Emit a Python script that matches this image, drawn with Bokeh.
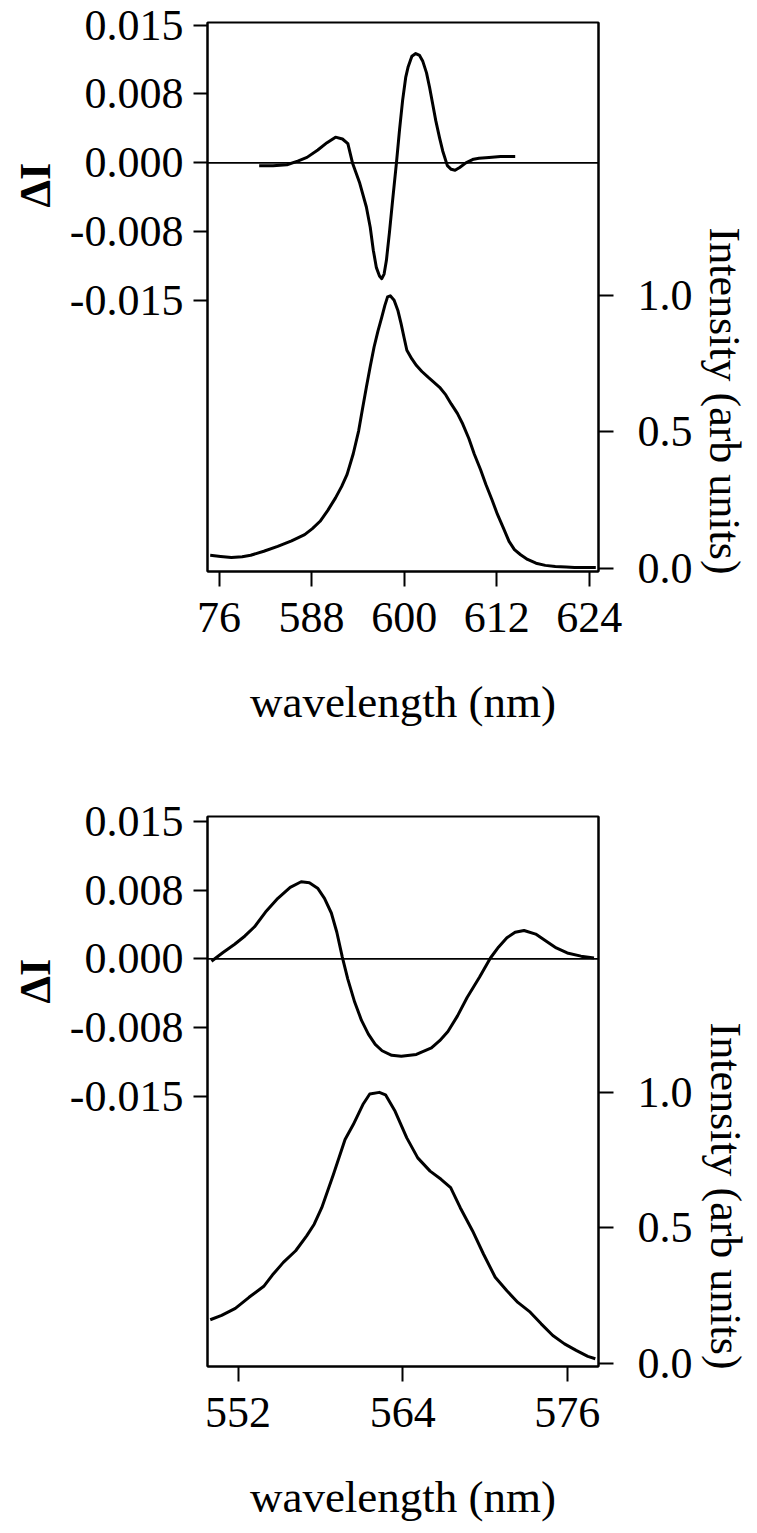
from bokeh.plotting import figure
from bokeh.models import Range1d, LinearAxis, FixedTicker, Span, Title
from bokeh.layouts import column
from bokeh.embed import file_html
from bokeh.resources import INLINE

# ---------------- data ----------------
# top panel: difference spectrum (Delta I) and emission spectrum
top_dI_nm = [581.2, 583.0, 584.8, 586.2, 587.4, 588.8, 590.0, 591.1, 592.0, 592.7, 593.3,
             594.2, 595.1, 595.6, 596.0, 596.4, 596.8, 597.1, 597.4, 597.7, 598.1, 598.5,
             599.0, 599.4, 599.8, 600.2, 600.5, 601.0, 601.5, 602.0, 602.4, 602.9, 603.3,
             603.7, 604.1, 604.6, 605.0, 605.6, 606.1, 606.6, 607.2, 608.0, 609.0, 609.7,
             611.0, 612.5, 614.4]
top_dI = [-0.0003, -0.0003, -0.0002, 0.0002, 0.0006, 0.0014, 0.0022, 0.0028, 0.0026, 0.0021, 0.0000,
          -0.0021, -0.0048, -0.0070, -0.0095, -0.0114, -0.0123, -0.0126, -0.0121, -0.0106, -0.0075, -0.0041,
          0.0000, 0.0036, 0.0068, 0.0093, 0.0104, 0.0116, 0.0119, 0.0117, 0.0111, 0.0098, 0.0082,
          0.0064, 0.0046, 0.0027, 0.0013, -0.0003, -0.0007, -0.0008, -0.0005, 0.0000, 0.0004, 0.0005,
          0.0006, 0.0007, 0.0007]

top_int_nm = [574.85, 576.2, 577.6, 579.0, 580.1, 581.8, 583.6, 585.4, 587.1, 588.1, 589.1, 590.1,
              591.1, 591.9, 592.6, 593.4, 594.1, 594.6, 595.1, 595.6, 596.1, 596.6, 597.1, 597.5,
              597.85, 598.2, 598.7, 599.2, 599.6, 600.0, 600.35, 601.0, 601.6, 602.3, 603.1, 603.8,
              604.6, 605.4, 606.1, 606.9, 607.6, 608.4, 609.1, 609.9, 610.6, 611.4, 612.1, 612.9,
              613.6, 614.3, 615.1, 616.0, 617.1, 618.3, 619.6, 621.0, 622.1, 623.5, 624.85]
top_int = [0.047, 0.043, 0.039, 0.042, 0.047, 0.062, 0.080, 0.100, 0.123, 0.145, 0.172, 0.212,
           0.258, 0.300, 0.344, 0.420, 0.504, 0.585, 0.664, 0.740, 0.812, 0.870, 0.922, 0.965,
           0.996, 1.000, 0.984, 0.945, 0.898, 0.845, 0.800, 0.768, 0.744, 0.722, 0.701, 0.684,
           0.664, 0.636, 0.603, 0.568, 0.529, 0.475, 0.418, 0.362, 0.307, 0.250, 0.197, 0.145,
           0.098, 0.068, 0.049, 0.032, 0.018, 0.010, 0.006, 0.004, 0.002, 0.002, 0.002]

# bottom panel
bot_dI_nm = [550.06, 550.9, 551.75, 552.5, 553.2, 554.0, 554.9, 555.8, 556.6, 557.2, 557.8,
             558.3, 558.8, 559.2, 559.6, 560.0, 560.5, 561.0, 561.5, 562.0, 562.5, 563.2,
             563.9, 565.0, 566.1, 566.7, 567.3, 568.0, 568.7, 569.6, 570.4, 571.0, 571.6,
             572.2, 572.85, 573.7, 574.5, 575.2, 576.0, 577.0, 577.95]
bot_dI = [-0.00025, 0.0007, 0.0016, 0.0025, 0.0035, 0.0051, 0.0066, 0.0078, 0.0084, 0.0083, 0.0077,
          0.0066, 0.0050, 0.0029, 0.0002, -0.0022, -0.0047, -0.0067, -0.0082, -0.0093, -0.0100, -0.0105,
          -0.0106, -0.0104, -0.0097, -0.0089, -0.0079, -0.0062, -0.0042, -0.0020, 0.0001, 0.0013, 0.0023,
          0.0029, 0.0031, 0.0027, 0.0019, 0.0012, 0.00065, 0.0003, 0.0001]

bot_int_nm = [549.97, 550.8, 551.8, 552.8, 553.9, 554.5, 555.3, 556.2, 557.0, 557.55, 558.1,
              558.95, 559.8, 560.4, 561.1, 561.6, 562.3, 562.75, 563.45, 564.3, 565.1, 566.0,
              566.8, 567.5, 568.2, 569.1, 569.9, 570.75, 571.6, 572.4, 573.3, 574.1, 574.95,
              575.8, 576.65, 577.5, 578.05]
bot_int = [0.160, 0.176, 0.202, 0.243, 0.285, 0.325, 0.372, 0.415, 0.470, 0.513, 0.574,
           0.697, 0.826, 0.881, 0.955, 0.994, 1.000, 0.991, 0.930, 0.832, 0.758, 0.709,
           0.679, 0.648, 0.574, 0.488, 0.402, 0.317, 0.267, 0.224, 0.188, 0.145, 0.102,
           0.071, 0.047, 0.025, 0.016]

# ticks
top_x_ticks = [576, 588, 600, 612, 624]
top_x_labels = ["76", "588", "600", "612", "624"]
bot_x_ticks = [552, 564, 576]
bot_x_labels = ["552", "564", "576"]
dI_ticks = [-0.015, -0.0075, 0.0, 0.0075, 0.015]
dI_labels = ["-0.015", "-0.008", "0.000", "0.008", "0.015"]
int_ticks = [0.0, 0.5, 1.0]
int_labels = ["0.0", "0.5", "1.0"]

FONT = "Liberation Serif"
W = 757


def make_panel(height, mb_left, mb_top, mb_bottom, frame_w,
               xr, yr, ir, x_ticks, x_labels, dI_nm, dI, int_nm, inten,
               dI_offset, int_offset, dI_standoff, int_standoff):
    p = figure(width=W, height=height, output_backend="svg", toolbar_location=None,
               x_range=Range1d(*xr), y_range=Range1d(*yr),
               min_border_left=mb_left, min_border_top=mb_top,
               min_border_bottom=mb_bottom,
               min_border_right=W - mb_left - frame_w)
    p.extra_y_ranges = {"int": Range1d(*ir)}
    p.grid.visible = False
    p.background_fill_color = "white"
    p.border_fill_color = "white"
    p.outline_line_color = "black"
    p.outline_line_width = 2

    def style(ax, standoff):
        ax.major_label_text_font = FONT
        ax.major_label_text_font_size = "44px"
        ax.major_label_text_color = "black"
        ax.axis_line_color = "black"
        ax.axis_line_width = 2
        ax.major_tick_line_color = "black"
        ax.major_tick_line_width = 2
        ax.major_tick_out = 15
        ax.major_tick_in = 0
        ax.minor_tick_line_color = None
        ax.major_label_standoff = standoff

    # bottom axis
    xa = p.xaxis[0]
    xa.ticker = FixedTicker(ticks=x_ticks)
    xa.major_label_overrides = {t: l for t, l in zip(x_ticks, x_labels)}
    style(xa, 16)
    xa.axis_label = "wavelength (nm)"
    xa.axis_label_text_font = FONT
    xa.axis_label_text_font_size = "45px"
    xa.axis_label_text_font_style = "normal"
    xa.axis_label_text_color = "black"
    xa.axis_label_standoff = 42

    # left axis (Delta I)
    ya = p.yaxis[0]
    ya.ticker = FixedTicker(ticks=dI_ticks)
    ya.major_label_overrides = {t: l for t, l in zip(dI_ticks, dI_labels)}
    style(ya, 10)
    ya.major_tick_out = 14

    # right axis (intensity)
    ra = LinearAxis(y_range_name="int")
    ra.ticker = FixedTicker(ticks=int_ticks)
    ra.major_label_overrides = {t: l for t, l in zip(int_ticks, int_labels)}
    style(ra, 24)
    p.add_layout(ra, "right")

    p.add_layout(Span(location=0, dimension="width", line_color="black", line_width=1.8))

    p.line(dI_nm, dI, line_color="black", line_width=3, line_join="round")
    p.line(int_nm, inten, line_color="black", line_width=3, line_join="round",
           y_range_name="int")

    p.add_layout(Title(text="ΔI", align="left", offset=dI_offset, vertical_align="bottom",
                       standoff=dI_standoff, text_font=FONT, text_font_size="44px",
                       text_font_style="bold", text_color="black"), "left")
    p.add_layout(Title(text="Intensity (arb units)", align="left", offset=int_offset,
                       vertical_align="bottom", standoff=int_standoff, text_font=FONT,
                       text_font_size="44px", text_font_style="normal",
                       text_color="black"), "right")
    return p


p1 = make_panel(height=790, mb_left=207, mb_top=22, mb_bottom=219, frame_w=393,
                xr=(574.5, 625.2), yr=(-0.04447, 0.01528), ir=(-0.0125, 2.0037),
                x_ticks=top_x_ticks, x_labels=top_x_labels,
                dI_nm=top_dI_nm, dI=top_dI, int_nm=top_int_nm, inten=top_int,
                dI_offset=364, int_offset=205, dI_standoff=14, int_standoff=8)

p2 = make_panel(height=738, mb_left=206, mb_top=26, mb_bottom=162, frame_w=392,
                xr=(549.77, 578.28), yr=(-0.04439, 0.01551), ir=(-0.0126, 2.019),
                x_ticks=bot_x_ticks, x_labels=bot_x_labels,
                dI_nm=bot_dI_nm, dI=bot_dI, int_nm=bot_int_nm, inten=bot_int,
                dI_offset=363, int_offset=206, dI_standoff=13, int_standoff=10)

layout = column(p1, p2, spacing=0)
open("out.html", "w").write(file_html(layout, INLINE))
